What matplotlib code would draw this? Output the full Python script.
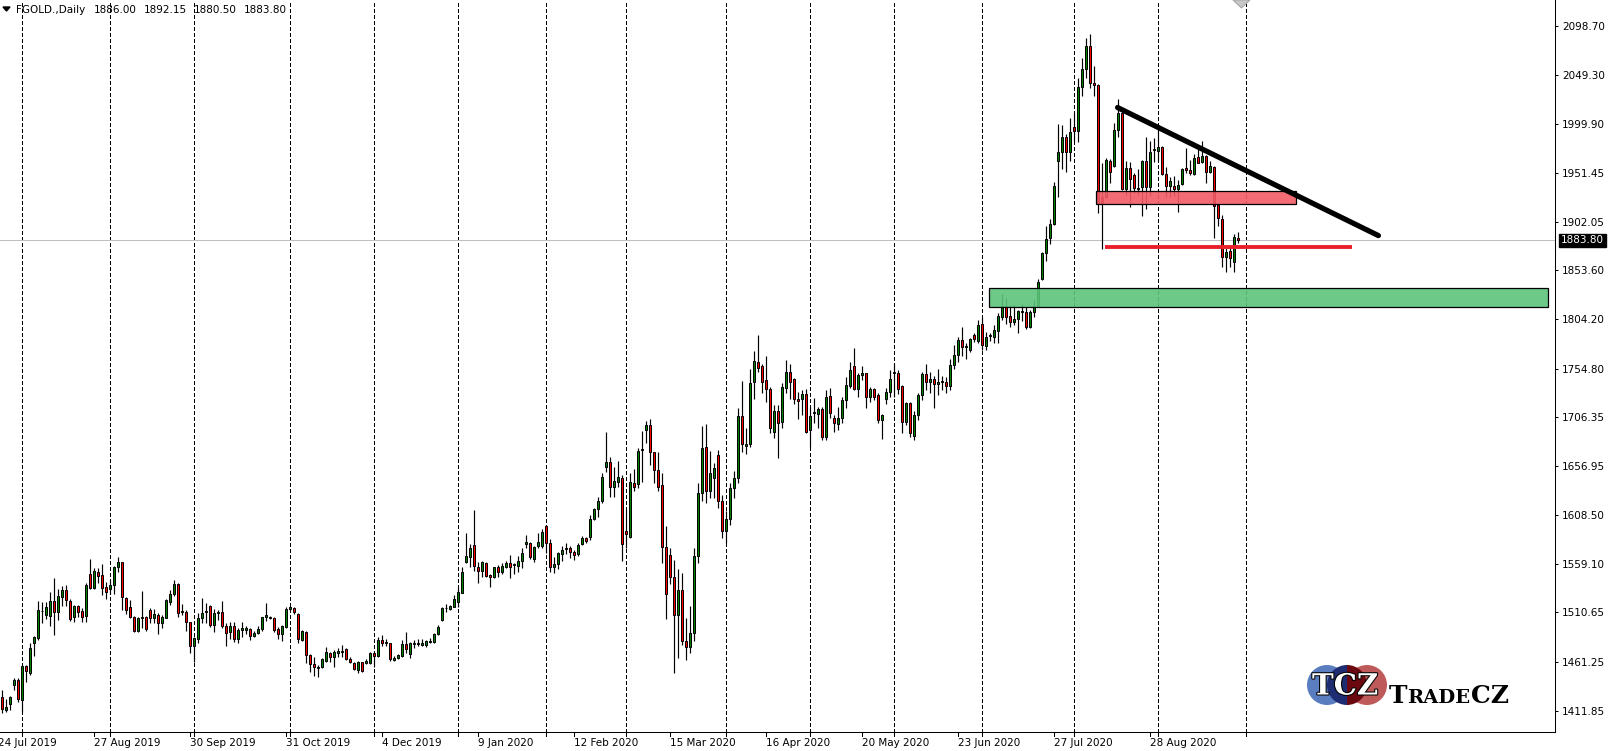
import numpy as np
import matplotlib
matplotlib.use("Agg")
import matplotlib.pyplot as plt
import matplotlib.transforms as mtransforms
import matplotlib.patheffects as pe
from matplotlib.patches import Rectangle, Circle, Polygon

plt.rcParams['lines.scale_dashes'] = False
plt.rcParams['font.family'] = ['DejaVu Sans']

# ---- daily OHLC, one value per bar ----
opens = [
    1425.3, 1412.6, 1418.3, 1437.7, 1442.7, 1422.7, 1456.7, 1450.1, 1479.5, 1484.5,
    1512.2, 1507.9, 1507.2, 1521.9, 1511.2, 1526.3, 1532.9, 1521.9, 1505.5, 1516.9,
    1511.9, 1507.2, 1548.7, 1535.3, 1551.3, 1548.0, 1535.6, 1533.9, 1538.0, 1555.7,
    1560.7, 1524.6, 1515.6, 1505.5, 1492.2, 1505.5, 1505.5, 1512.9, 1505.2, 1507.9,
    1500.2, 1505.2, 1520.6, 1528.6, 1539.0, 1511.0, 1511.2, 1500.5, 1477.1, 1483.5,
    1504.5, 1511.0, 1517.2, 1497.5, 1509.5, 1510.5, 1497.2, 1491.1, 1496.8, 1483.5,
    1492.8, 1492.8, 1493.5, 1487.1, 1489.5, 1493.5, 1505.5, 1505.5, 1504.5, 1493.8,
    1488.5, 1496.2, 1513.5, 1514.5, 1508.9, 1482.8, 1491.1, 1467.8, 1458.4, 1454.4,
    1455.4, 1462.1, 1470.1, 1466.1, 1470.1, 1471.1, 1473.4, 1463.4, 1459.7, 1452.7,
    1460.4, 1460.1, 1460.1, 1469.4, 1467.1, 1482.8, 1479.4, 1479.4, 1462.7, 1464.7,
    1466.8, 1478.8, 1468.8, 1478.4, 1478.4, 1478.1, 1477.8, 1480.8, 1481.1, 1488.8,
    1502.8, 1514.8, 1514.2, 1516.2, 1520.6, 1530.3, 1561.4, 1566.4, 1578.1, 1556.4,
    1552.3, 1559.7, 1548.0, 1545.7, 1555.7, 1551.3, 1556.4, 1559.7, 1558.1, 1557.4,
    1561.7, 1579.4, 1579.7, 1564.4, 1577.4, 1577.4, 1597.5, 1580.4, 1555.7, 1558.7,
    1569.4, 1574.5, 1574.7, 1571.4, 1568.7, 1578.7, 1584.8, 1586.4, 1603.8, 1614.5,
    1622.5, 1656.6, 1661.0, 1636.6, 1641.6, 1644.9, 1592.1, 1585.8, 1639.9, 1638.9,
    1673.7, 1693.4, 1698.4, 1671.0, 1653.3, 1637.9, 1575.7, 1568.0, 1545.7, 1507.9,
    1533.0, 1482.0, 1476.0, 1490.0, 1567.0, 1630.0, 1676.0, 1632.0, 1645.0, 1668.3,
    1622.0, 1592.0, 1604.0, 1635.0, 1645.0, 1707.4, 1677.7, 1679.0, 1741.1, 1761.9,
    1757.5, 1743.5, 1734.1, 1691.7, 1712.4, 1701.7, 1735.1, 1751.8, 1744.5, 1724.4,
    1724.1, 1729.1, 1693.4, 1710.1, 1709.1, 1714.4, 1686.0, 1727.4, 1705.7, 1699.0,
    1705.1, 1723.4, 1737.8, 1757.5, 1734.1, 1748.5, 1750.2, 1726.1, 1734.1, 1728.4,
    1703.4, 1724.4, 1731.8, 1750.8, 1750.8, 1737.5, 1701.7, 1720.1, 1687.0, 1708.0,
    1728.0, 1750.0, 1742.0, 1745.0, 1740.0, 1742.0, 1742.0, 1737.0, 1759.0, 1769.0,
    1783.6, 1777.0, 1774.0, 1788.6, 1782.9, 1799.6, 1777.9, 1787.7, 1786.9, 1792.9,
    1807.0, 1817.7, 1807.6, 1801.9, 1804.6, 1812.2, 1812.0, 1797.0, 1811.3, 1818.0,
    1844.4, 1871.1, 1885.5, 1899.9, 1963.4, 1971.7, 1986.8, 1972.4, 1997.5, 1993.5,
    2037.6, 2055.0, 2078.0, 2041.6, 2039.3, 1927.3, 1926.7, 1963.1, 1958.4, 1994.2,
    2011.5, 1934.7, 1955.7, 1949.1, 1936.4, 1936.7, 1963.1, 1936.7, 1974.1, 1973.4,
    1976.8, 1949.7, 1938.0, 1938.0, 1935.0, 1940.0, 1955.7, 1954.1, 1950.1, 1966.8,
    1961.8, 1968.1, 1951.7, 1956.7, 1919.0, 1904.6, 1866.5, 1872.9, 1862.2, 1886.00,
]
highs = [
    1432.7, 1423.3, 1427.0, 1444.7, 1444.4, 1457.7, 1457.7, 1480.1, 1486.8, 1521.9,
    1521.2, 1521.2, 1530.9, 1545.3, 1533.6, 1537.3, 1538.0, 1523.6, 1517.9, 1517.9,
    1514.6, 1539.6, 1564.0, 1555.3, 1555.3, 1559.0, 1541.3, 1543.0, 1557.0, 1565.7,
    1561.5, 1526.3, 1522.9, 1506.9, 1505.5, 1531.9, 1506.9, 1515.2, 1513.6, 1510.2,
    1507.9, 1523.6, 1532.9, 1543.0, 1539.6, 1518.9, 1512.9, 1501.2, 1486.2, 1510.2,
    1524.6, 1520.2, 1517.9, 1513.6, 1512.9, 1521.9, 1499.5, 1501.2, 1501.2, 1494.5,
    1501.2, 1497.2, 1495.2, 1491.8, 1497.2, 1506.2, 1520.2, 1506.9, 1506.2, 1496.2,
    1497.8, 1516.2, 1516.9, 1516.2, 1509.5, 1492.8, 1492.1, 1468.4, 1466.1, 1457.7,
    1465.1, 1475.4, 1471.1, 1472.8, 1474.4, 1478.1, 1474.4, 1466.1, 1461.1, 1461.7,
    1461.1, 1463.7, 1470.4, 1470.4, 1486.1, 1487.8, 1483.5, 1480.1, 1467.1, 1468.8,
    1482.8, 1490.5, 1481.1, 1482.8, 1483.5, 1483.5, 1482.8, 1484.5, 1489.5, 1497.8,
    1515.5, 1518.9, 1517.9, 1527.9, 1535.6, 1555.7, 1589.8, 1579.1, 1613.2, 1561.4,
    1562.0, 1561.4, 1549.0, 1556.4, 1558.0, 1559.7, 1562.0, 1568.0, 1560.4, 1567.0,
    1574.7, 1588.1, 1581.4, 1577.1, 1589.8, 1594.1, 1598.1, 1583.7, 1566.4, 1571.4,
    1577.1, 1579.7, 1577.4, 1573.1, 1579.7, 1587.4, 1586.4, 1608.2, 1615.5, 1626.5,
    1650.6, 1691.7, 1666.0, 1655.9, 1662.3, 1648.3, 1613.8, 1649.9, 1654.3, 1675.7,
    1692.4, 1702.7, 1704.1, 1671.6, 1671.6, 1650.6, 1597.5, 1574.7, 1563.0, 1554.0,
    1550.0, 1505.0, 1517.0, 1575.0, 1640.0, 1697.4, 1699.4, 1672.3, 1660.6, 1673.3,
    1628.0, 1612.0, 1640.0, 1652.0, 1715.8, 1742.8, 1695.7, 1754.5, 1772.6, 1788.6,
    1759.2, 1767.6, 1736.1, 1718.4, 1718.4, 1740.1, 1763.5, 1759.5, 1745.8, 1731.8,
    1733.5, 1734.1, 1716.1, 1725.1, 1716.8, 1716.8, 1733.5, 1735.1, 1708.4, 1716.8,
    1726.1, 1746.8, 1761.2, 1775.2, 1750.8, 1757.5, 1750.8, 1736.1, 1735.1, 1730.1,
    1709.4, 1735.1, 1753.5, 1760.9, 1753.5, 1738.5, 1721.8, 1721.0, 1712.0, 1730.0,
    1752.0, 1760.0, 1752.0, 1748.0, 1755.0, 1748.0, 1747.0, 1765.0, 1779.0, 1787.0,
    1797.0, 1780.2, 1785.2, 1790.2, 1803.6, 1807.0, 1791.3, 1790.2, 1798.6, 1810.3,
    1829.7, 1826.0, 1818.7, 1818.7, 1813.6, 1819.7, 1817.0, 1813.6, 1823.7, 1844.7,
    1872.1, 1897.9, 1904.9, 1942.3, 1999.8, 1999.1, 1989.8, 2005.9, 2011.5, 2046.0,
    2066.0, 2086.0, 2090.0, 2058.0, 2040.3, 1961.4, 1965.8, 1964.8, 2001.5, 2025.3,
    2012.6, 1963.1, 1962.4, 1950.7, 1954.7, 1964.1, 1986.8, 1983.1, 1985.8, 1997.5,
    1978.1, 1956.7, 1947.4, 1948.4, 1944.0, 1955.7, 1975.8, 1964.1, 1970.1, 1975.8,
    1983.1, 1969.1, 1963.1, 1958.1, 1920.0, 1908.9, 1875.5, 1878.9, 1889.6, 1892.15,
]
lows = [
    1409.3, 1411.0, 1412.6, 1432.7, 1421.0, 1411.0, 1441.0, 1447.7, 1466.8, 1482.8,
    1500.2, 1503.5, 1496.8, 1487.8, 1502.9, 1516.9, 1516.9, 1502.2, 1501.2, 1505.5,
    1501.2, 1501.2, 1533.6, 1533.6, 1539.6, 1527.9, 1524.3, 1528.9, 1528.9, 1551.3,
    1512.9, 1508.9, 1504.5, 1491.2, 1491.2, 1494.5, 1491.8, 1499.5, 1499.5, 1488.8,
    1495.2, 1504.5, 1517.9, 1527.3, 1506.2, 1507.9, 1492.2, 1469.4, 1461.1, 1479.5,
    1500.2, 1499.5, 1495.5, 1491.2, 1502.9, 1495.2, 1477.1, 1483.5, 1481.1, 1479.4,
    1486.1, 1488.8, 1482.8, 1485.5, 1488.8, 1491.8, 1502.2, 1503.5, 1491.1, 1483.5,
    1481.8, 1494.5, 1512.2, 1508.9, 1479.4, 1481.8, 1459.4, 1451.0, 1447.0, 1445.4,
    1455.1, 1461.1, 1461.1, 1455.4, 1466.1, 1466.1, 1462.7, 1460.1, 1452.7, 1449.4,
    1450.7, 1458.7, 1458.7, 1455.4, 1466.1, 1476.8, 1476.8, 1462.1, 1462.1, 1463.4,
    1465.4, 1469.4, 1464.4, 1474.4, 1477.1, 1476.8, 1476.1, 1479.4, 1480.1, 1487.8,
    1502.2, 1511.2, 1512.9, 1515.6, 1515.6, 1529.6, 1560.4, 1555.7, 1552.3, 1539.6,
    1546.3, 1545.7, 1535.6, 1544.6, 1546.3, 1549.0, 1554.7, 1544.6, 1548.7, 1550.7,
    1554.7, 1574.7, 1564.0, 1561.4, 1575.4, 1574.7, 1569.7, 1550.7, 1550.3, 1554.0,
    1562.4, 1568.7, 1564.7, 1563.0, 1567.4, 1578.1, 1580.1, 1583.1, 1603.1, 1605.8,
    1620.5, 1651.6, 1625.9, 1625.9, 1636.6, 1562.4, 1574.7, 1584.8, 1632.2, 1634.9,
    1641.6, 1680.0, 1658.3, 1640.6, 1632.2, 1559.7, 1503.5, 1539.0, 1449.4, 1464.4,
    1478.0, 1463.0, 1470.0, 1482.0, 1560.0, 1622.0, 1620.0, 1625.0, 1625.0, 1615.0,
    1585.0, 1580.0, 1598.0, 1625.0, 1640.0, 1671.6, 1669.3, 1676.7, 1724.1, 1751.8,
    1730.8, 1721.8, 1690.7, 1685.0, 1665.6, 1695.0, 1730.1, 1724.4, 1719.1, 1704.1,
    1708.4, 1690.0, 1676.0, 1700.0, 1695.0, 1683.3, 1683.3, 1705.1, 1691.7, 1693.4,
    1700.0, 1715.1, 1735.1, 1733.5, 1726.8, 1743.5, 1715.1, 1721.1, 1723.4, 1700.0,
    1684.0, 1719.4, 1726.8, 1726.8, 1729.5, 1690.0, 1698.4, 1686.7, 1683.0, 1703.0,
    1723.0, 1733.0, 1730.0, 1715.0, 1728.0, 1733.0, 1730.0, 1733.0, 1755.0, 1762.0,
    1768.0, 1765.0, 1772.0, 1781.9, 1780.2, 1773.5, 1773.5, 1782.9, 1780.2, 1780.9,
    1803.6, 1799.6, 1796.3, 1798.6, 1790.9, 1803.0, 1794.3, 1795.3, 1806.3, 1817.0,
    1843.7, 1863.1, 1879.8, 1899.2, 1927.3, 1955.0, 1952.3, 1963.4, 1982.5, 1982.5,
    2028.3, 2046.0, 2036.0, 2028.3, 1911.3, 1874.5, 1925.7, 1940.7, 1956.7, 1987.5,
    1934.0, 1929.0, 1916.6, 1930.7, 1929.0, 1908.3, 1914.6, 1928.0, 1962.4, 1963.1,
    1949.1, 1927.3, 1927.3, 1928.0, 1911.6, 1939.0, 1950.7, 1949.1, 1949.1, 1960.7,
    1960.7, 1940.7, 1950.7, 1885.6, 1898.3, 1856.5, 1851.5, 1857.1, 1851.5, 1880.50,
]
closes = [
    1413.3, 1415.3, 1426.0, 1442.7, 1423.7, 1456.7, 1452.1, 1474.5, 1485.5, 1512.9,
    1511.6, 1515.6, 1521.9, 1511.2, 1526.9, 1532.9, 1522.9, 1504.2, 1516.9, 1511.2,
    1506.2, 1538.0, 1535.3, 1552.0, 1547.3, 1535.3, 1531.3, 1538.0, 1555.7, 1560.7,
    1526.3, 1512.9, 1506.2, 1492.2, 1504.5, 1505.0, 1493.5, 1504.5, 1508.5, 1500.2,
    1505.5, 1522.9, 1528.9, 1539.0, 1509.5, 1510.9, 1501.2, 1477.1, 1484.5, 1504.5,
    1509.5, 1510.8, 1497.5, 1509.5, 1510.9, 1497.2, 1489.5, 1496.8, 1483.5, 1492.8,
    1494.5, 1494.5, 1486.8, 1490.1, 1493.5, 1505.5, 1507.5, 1504.5, 1492.8, 1488.5,
    1496.8, 1513.9, 1515.5, 1510.5, 1483.5, 1491.8, 1468.1, 1458.4, 1455.4, 1456.1,
    1463.7, 1470.4, 1466.1, 1470.8, 1472.1, 1472.1, 1463.4, 1461.1, 1454.1, 1460.4,
    1452.0, 1462.1, 1469.4, 1467.1, 1482.8, 1479.4, 1481.1, 1463.7, 1464.7, 1467.8,
    1478.4, 1473.4, 1479.4, 1479.4, 1479.4, 1479.4, 1481.5, 1482.1, 1488.8, 1496.2,
    1514.5, 1514.5, 1516.6, 1523.6, 1530.6, 1550.7, 1567.0, 1574.7, 1557.0, 1552.3,
    1560.7, 1547.3, 1545.7, 1555.7, 1551.3, 1556.7, 1560.0, 1556.4, 1558.0, 1562.0,
    1569.7, 1580.7, 1565.7, 1575.7, 1580.7, 1590.8, 1579.7, 1555.7, 1559.0, 1569.7,
    1572.7, 1574.7, 1570.7, 1568.0, 1578.1, 1584.8, 1582.4, 1603.8, 1613.8, 1622.2,
    1645.9, 1661.0, 1635.9, 1642.2, 1645.9, 1578.7, 1589.4, 1640.9, 1636.6, 1672.3,
    1673.6, 1698.4, 1671.0, 1653.3, 1636.6, 1575.7, 1528.9, 1545.7, 1507.9, 1532.9,
    1482.0, 1476.0, 1490.0, 1567.0, 1630.0, 1675.6, 1632.0, 1650.0, 1655.0, 1622.0,
    1592.0, 1604.0, 1635.0, 1645.0, 1707.4, 1679.0, 1679.0, 1740.1, 1762.5, 1755.9,
    1741.8, 1734.1, 1695.0, 1712.4, 1700.7, 1736.1, 1751.8, 1741.8, 1724.1, 1722.8,
    1729.1, 1691.7, 1707.4, 1711.1, 1714.4, 1686.0, 1726.1, 1710.1, 1700.0, 1705.1,
    1723.4, 1738.5, 1753.5, 1734.1, 1748.5, 1750.2, 1726.1, 1734.1, 1726.8, 1703.4,
    1708.4, 1731.1, 1744.5, 1750.9, 1734.1, 1701.7, 1720.1, 1690.0, 1708.0, 1728.0,
    1750.0, 1742.0, 1745.0, 1740.0, 1742.0, 1742.5, 1737.0, 1759.0, 1769.0, 1783.6,
    1777.0, 1778.0, 1784.6, 1784.2, 1798.6, 1778.5, 1786.2, 1787.9, 1793.6, 1808.0,
    1817.7, 1807.0, 1801.9, 1804.6, 1812.6, 1811.8, 1796.3, 1811.3, 1818.0, 1842.1,
    1870.5, 1884.5, 1899.9, 1938.0, 1971.7, 1986.8, 1972.4, 1991.8, 1993.5, 2037.6,
    2055.0, 2078.0, 2041.6, 2039.3, 1920.6, 1921.3, 1964.1, 1951.7, 1994.2, 2011.5,
    1934.7, 1955.7, 1945.0, 1935.7, 1934.7, 1963.4, 1936.7, 1972.4, 1974.0, 1976.8,
    1949.7, 1938.0, 1943.0, 1934.7, 1939.0, 1954.7, 1954.1, 1950.7, 1965.8, 1961.4,
    1968.1, 1951.7, 1958.1, 1918.0, 1905.6, 1866.5, 1872.2, 1866.2, 1887.2, 1883.80,
]

# time axis labels (every 24 bars) and month-start separators
date_labels = ["24 Jul 2019", "27 Aug 2019", "30 Sep 2019", "31 Oct 2019", "4 Dec 2019",
               "9 Jan 2020", "12 Feb 2020", "15 Mar 2020", "16 Apr 2020", "20 May 2020",
               "23 Jun 2020", "27 Jul 2020", "28 Aug 2020"]
label_bars = [-1, 23, 47, 71, 95, 119, 143, 167, 191, 215, 239, 263, 287]
month_bars = [5, 27, 48, 72, 93, 114, 136, 156, 181, 202, 223, 245, 268, 289, 311]
price_ticks = [2098.70, 2049.30, 1999.90, 1951.45, 1902.05, 1853.60, 1804.20, 1754.80,
               1706.35, 1656.95, 1608.50, 1559.10, 1510.65, 1461.25, 1411.85]
last_price = 1883.80
header = ["1886.00", "1892.15", "1880.50", "1883.80"]

# drawn objects: (bar, price)
trend_line = [(278.9, 2016.7), (344.1, 1888.3)]
support_line = [(275.75, 1876.5), (337.6, 1876.5)]
red_zone = (273.5, 323.5, 1919.6, 1933.0)
green_zone = (246.8, 386.5, 1817.0, 1835.7)

W, H = 1615, 751
fig = plt.figure(figsize=(W / 100, H / 100), dpi=100)
fig.patch.set_facecolor('white')
ax = fig.add_axes([0, (H - 732) / H, 1555 / W, 732 / H])
ax.set_xlim(-0.5, 388.25)
ax.set_ylim(1390.6, 2124.5)
ax.set_facecolor('white')
for s in ['top', 'left']:
    ax.spines[s].set_visible(False)
for s in ['right', 'bottom']:
    ax.spines[s].set_color('black')
    ax.spines[s].set_linewidth(0.75)

ax.set_xticks([])
ax.yaxis.tick_right()
ax.set_yticks(price_ticks)
ax.set_yticklabels([f"{p:.2f}" for p in price_ticks])
ax.tick_params(axis='y', length=2.5, width=0.75, pad=2.5, labelsize=7.5, colors='black')

# month separators
for b in month_bars:
    ax.axvline(b, color='black', lw=0.75, dashes=(2.2, 1.5), zorder=1, antialiased=False)

# current price line
ax.axhline(last_price, color='#C0C0C0', lw=0.75, zorder=1)

# candles
o = np.array(opens); h = np.array(highs); l = np.array(lows); c = np.array(closes)
x = np.arange(len(o))
up = c >= o
ax.vlines(x, l, h, color='black', lw=0.85, zorder=2)
body_lo = np.minimum(o, c)
body_h = np.maximum(np.abs(c - o), 0.8)
ax.bar(x, body_h, bottom=body_lo, width=0.62, color=np.where(up, '#008000', '#FF0000'),
       edgecolor='black', linewidth=0.7, zorder=3)

# zones and lines
gx0, gx1, gy0, gy1 = green_zone
ax.add_patch(Rectangle((gx0, gy0), gx1 - gx0, gy1 - gy0, facecolor=(0.36, 0.77, 0.48, 0.9),
                       edgecolor='black', lw=0.9, zorder=4))
rx0, rx1, ry0, ry1 = red_zone
ax.add_patch(Rectangle((rx0, ry0), rx1 - rx0, ry1 - ry0, facecolor=(0.95, 0.36, 0.40, 0.9),
                       edgecolor='black', lw=0.9, zorder=4))
ax.plot([p[0] for p in support_line], [p[1] for p in support_line], color='#E8202A',
        lw=2.8, solid_capstyle='butt', zorder=5)
ax.plot([p[0] for p in trend_line], [p[1] for p in trend_line], color='black',
        lw=3.8, solid_capstyle='round', zorder=5)

# overlay in pixel coordinates
ov = fig.add_axes([0, 0, 1, 1], facecolor='none')
ov.set_xlim(0, W)
ov.set_ylim(H, 0)
ov.axis('off')

bx = mtransforms.blended_transform_factory(ax.transData, ov.transData)
for b, lab in zip(label_bars, date_labels):
    ov.text(b, 743, lab, transform=bx, ha='left', va='center', fontsize=7.5, color='black')
    ov.plot([b, b], [732, 736], transform=bx, color='black', lw=0.75, clip_on=False)
for b in month_bars:
    ov.plot([b, b], [732, 736], transform=bx, color='black', lw=0.75, clip_on=False)

py = mtransforms.blended_transform_factory(ov.transData, ax.transData)
ov.text(1561, last_price, f"{last_price:.2f}", transform=py, ha='left', va='center',
        fontsize=7.5, color='white',
        bbox=dict(boxstyle='square,pad=0.15', facecolor='black', edgecolor='black'))

# header
ov.add_patch(Polygon([(3, 7), (10, 7), (6.5, 11)], closed=True, facecolor='black', edgecolor='black'))
ov.text(16, 10, "FGOLD.,Daily", ha='left', va='center', fontsize=7.5, color='black')
for xp, t in zip([94, 144, 194, 244], header):
    ov.text(xp, 10, t, ha='left', va='center', fontsize=7.5, color='black')

# chart shift marker
ov.add_patch(Polygon([(1233, 0), (1250, 0), (1241.5, 8)], closed=True,
                     facecolor='#C8C8C8', edgecolor='#A8A8A8', lw=0.8))

# logo
cy = 685
blue = Circle((1327, cy), 20, facecolor='#5A7DC0', edgecolor='none')
red = Circle((1367, cy), 20, facecolor='#BE5A5A', edgecolor='none')
ov.add_patch(blue)
ov.add_patch(red)
mid_l = Rectangle((1320, cy - 25), 27, 50, facecolor='none', edgecolor='none')
mid_r = Rectangle((1347, cy - 25), 27, 50, facecolor='none', edgecolor='none')
ov.add_patch(mid_l)
ov.add_patch(mid_r)
mb = Circle((1347, cy), 20, facecolor='#1E2C72', edgecolor='none')
ov.add_patch(mb)
mb.set_clip_path(mid_l)
mr = Circle((1347, cy), 20, facecolor='#6A0A10', edgecolor='none')
ov.add_patch(mr)
mr.set_clip_path(mid_r)
ov.text(1345, cy + 1, "TCZ", ha='center', va='center', fontsize=21, fontweight='bold',
        family='DejaVu Serif', color='white',
        path_effects=[pe.withStroke(linewidth=1.5, foreground='black')])
ov.text(1389, 703, "T", ha='left', va='baseline', fontsize=18, fontweight='bold',
        family='DejaVu Serif', color='black')
ov.text(1407, 703, "RADE", ha='left', va='baseline', fontsize=14, fontweight='bold',
        family='DejaVu Serif', color='black')
ov.text(1471, 703, "CZ", ha='left', va='baseline', fontsize=18, fontweight='bold',
        family='DejaVu Serif', color='black')

fig.savefig("out.png", dpi=100, facecolor='white')
